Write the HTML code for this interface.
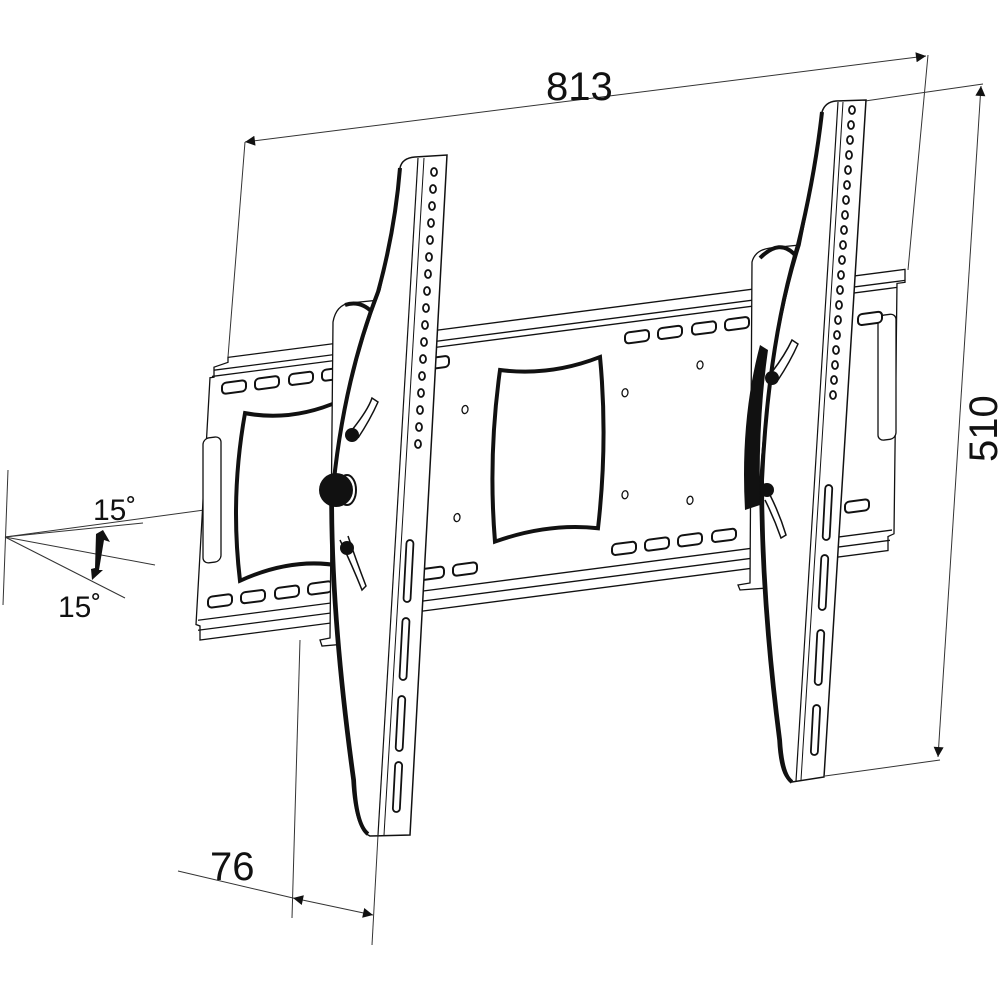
<!DOCTYPE html>
<html><head><meta charset="utf-8"><style>
html,body{margin:0;padding:0;background:#fff;}
svg{display:block;}
text{font-family:"Liberation Sans",sans-serif;fill:#111;}
</style></head><body>
<svg width="1000" height="1000" viewBox="0 0 1000 1000" xmlns="http://www.w3.org/2000/svg">
<defs>
<marker id="ah" viewBox="0 0 10 10" refX="10" refY="5" markerWidth="24" markerHeight="10" orient="auto-start-reverse" markerUnits="userSpaceOnUse"><path d="M0,0 L10,5 L0,10 Z" fill="#111"/></marker>
</defs>
<g stroke="#333" stroke-width="1" fill="none">
<line x1="245" y1="142" x2="926" y2="56" marker-start="url(#ah)" marker-end="url(#ah)"/>
<line x1="245" y1="142" x2="228" y2="357"/>
<line x1="928" y1="55" x2="908" y2="270"/>
<line x1="865" y1="101" x2="983" y2="84"/>
<line x1="981" y1="86" x2="938" y2="757" marker-start="url(#ah)" marker-end="url(#ah)"/>
<line x1="825" y1="776" x2="940" y2="760"/>
<line x1="178" y1="871" x2="293" y2="898"/>
<line x1="293" y1="898" x2="373" y2="915" marker-start="url(#ah)" marker-end="url(#ah)"/>
<line x1="300" y1="640" x2="292" y2="918"/>
<line x1="378" y1="835" x2="372" y2="945"/>
<line x1="8" y1="470" x2="3" y2="605"/>
<line x1="5" y1="537" x2="315" y2="495"/>
<line x1="5" y1="537" x2="143" y2="523"/>
<line x1="5" y1="537" x2="155" y2="565"/>
<line x1="5" y1="537" x2="125" y2="598"/>
</g>
<path d="M96,534 L103,530 L110,542 L104,540 L99,570 L103,570 L92,580 L91,569 L95,568 Z" fill="#111"/>
<text x="546" y="100" font-size="40">813</text>
<text x="210" y="880" font-size="40">76</text>
<text x="93" y="520" font-size="30">15˚</text>
<text x="58" y="617" font-size="30">15˚</text>
<text transform="translate(997,462) rotate(-90)" font-size="40">510</text>

<g transform="matrix(1,-0.13,0,1,0,0)" stroke="#111" stroke-width="1.3" fill="#fff">
<path d="M228,387 L905,387 L905,400 L897,400 L894,650 L888,652 L888,666 L200,666 L200,652 L196,650 L210,405 L214,405 L214,395 L228,392 Z"/>
<line x1="214" y1="398" x2="905" y2="398"/>
<line x1="212" y1="404" x2="897" y2="404"/>
<line x1="198" y1="646" x2="892" y2="646"/>
<line x1="198" y1="656" x2="890" y2="656"/>
<rect x="203" y="465" width="18" height="125" rx="6"/>
<rect x="878" y="430" width="18" height="125" rx="6"/>
<g stroke-width="2">
<rect x="222" y="412" width="24" height="11" rx="4"/><rect x="255" y="412" width="24" height="11" rx="4"/><rect x="289" y="412" width="24" height="11" rx="4"/><rect x="322" y="412" width="24" height="11" rx="4"/>
<rect x="425" y="414" width="24" height="11" rx="4"/><rect x="625" y="414" width="24" height="11" rx="4"/><rect x="658" y="414" width="24" height="11" rx="4"/><rect x="692" y="414" width="24" height="11" rx="4"/><rect x="725" y="414" width="24" height="11" rx="4"/><rect x="858" y="426" width="24" height="11" rx="4"/>
<rect x="208" y="624" width="24" height="11" rx="4"/><rect x="241" y="624" width="24" height="11" rx="4"/><rect x="275" y="624" width="24" height="11" rx="4"/><rect x="308" y="624" width="24" height="11" rx="4"/>
<rect x="420" y="624" width="24" height="11" rx="4"/><rect x="453" y="624" width="24" height="11" rx="4"/><rect x="612" y="624" width="24" height="11" rx="4"/><rect x="645" y="624" width="24" height="11" rx="4"/><rect x="678" y="624" width="24" height="11" rx="4"/><rect x="712" y="624" width="24" height="11" rx="4"/><rect x="845" y="612" width="24" height="11" rx="4"/>
</g>
<path d="M245,445 Q292,460 340,445 Q352,527 340,610 Q292,595 240,612 Q230,527 245,445 Z" stroke-width="4"/>
<path d="M500,435 Q550,448 600,435 Q608,520 598,606 Q548,594 495,606 Q488,520 500,435 Z" stroke-width="4"/>
<g stroke-width="1.3"><ellipse cx="465" cy="470" rx="3" ry="4"/><ellipse cx="625" cy="474" rx="3" ry="4"/><ellipse cx="457" cy="577" rx="3" ry="4"/><ellipse cx="625" cy="576" rx="3" ry="4"/><ellipse cx="700" cy="456" rx="3" ry="4"/><ellipse cx="690" cy="590" rx="3" ry="4"/></g>
</g>

<path d="M333,322 Q336,305 350,303 L380,300 L392,640 L322,646 L320,640 L330,638 Z" fill="#fff" stroke="#111" stroke-width="1.3"/>
<path d="M345,305 Q360,300 372,312" fill="none" stroke="#111" stroke-width="4"/>
<path d="M400,168 Q402,158 415,157 L447,155 L410,835 L370,836 Q355,830 352,780 Q330,620 330,500 Q345,380 380,290 Q395,220 400,168 Z" fill="#fff" stroke="#111" stroke-width="1.5"/>
<path d="M400,168 Q395,230 378,292 Q342,385 332,500 Q332,620 354,780 Q356,825 368,834" fill="none" stroke="#111" stroke-width="4"/>
<line x1="418" y1="158" x2="378" y2="835" stroke="#111" stroke-width="1.2"/>
<line x1="424" y1="158" x2="384" y2="835" stroke="#111" stroke-width="1"/>
<g fill="#fff" stroke="#111" stroke-width="1.8">
<ellipse cx="434" cy="172" rx="3" ry="4"/><ellipse cx="433" cy="189" rx="3" ry="4"/><ellipse cx="432" cy="206" rx="3" ry="4"/><ellipse cx="431" cy="223" rx="3" ry="4"/><ellipse cx="430" cy="240" rx="3" ry="4"/><ellipse cx="429" cy="257" rx="3" ry="4"/><ellipse cx="428" cy="274" rx="3" ry="4"/><ellipse cx="427" cy="291" rx="3" ry="4"/><ellipse cx="426" cy="308" rx="3" ry="4"/><ellipse cx="425" cy="325" rx="3" ry="4"/><ellipse cx="424" cy="342" rx="3" ry="4"/><ellipse cx="423" cy="359" rx="3" ry="4"/><ellipse cx="422" cy="376" rx="3" ry="4"/><ellipse cx="421" cy="393" rx="3" ry="4"/><ellipse cx="420" cy="410" rx="3" ry="4"/><ellipse cx="419" cy="427" rx="3" ry="4"/><ellipse cx="418" cy="444" rx="3" ry="4"/>
<rect x="405" y="540" width="7" height="62" rx="3.5" transform="rotate(3 408 571)"/>
<rect x="401" y="618" width="7" height="62" rx="3.5" transform="rotate(3 404 649)"/>
<rect x="397" y="696" width="7" height="55" rx="3.5" transform="rotate(3 400 723)"/>
<rect x="394" y="762" width="7" height="50" rx="3.5" transform="rotate(3 397 787)"/>
</g>
<path d="M352,430 Q368,410 372,398 L378,402 Q370,420 358,438 M340,540 Q352,565 362,590 L366,586 Q356,560 348,536" fill="#fff" stroke="#111" stroke-width="1.5"/>
<circle cx="352" cy="435" r="7" fill="#111"/>
<circle cx="347" cy="548" r="7" fill="#111"/>
<ellipse cx="347" cy="490" rx="9" ry="15" fill="#fff" stroke="#111" stroke-width="2"/>
<circle cx="336" cy="490" r="17" fill="#111"/>

<path d="M752,262 Q755,250 770,248 L800,245 L808,585 L740,590 L738,585 L750,583 Z" fill="#fff" stroke="#111" stroke-width="1.3"/>
<path d="M760,258 Q780,238 795,255" fill="none" stroke="#111" stroke-width="4"/>
<path d="M760,345 Q740,420 745,510 L760,505 Q758,420 768,350 Z" fill="#111"/>
<path d="M822,112 Q825,102 836,101 L866,100 L824,777 L792,782 Q780,778 778,740 Q760,600 760,480 Q770,340 800,245 Q815,170 822,112 Z" fill="#fff" stroke="#111" stroke-width="1.5"/>
<path d="M822,112 Q815,175 798,245 Q768,345 762,480 Q762,600 780,740 Q782,775 792,782" fill="none" stroke="#111" stroke-width="4"/>
<line x1="838" y1="102" x2="796" y2="781" stroke="#111" stroke-width="1.2"/>
<line x1="843" y1="102" x2="801" y2="780" stroke="#111" stroke-width="1"/>
<g fill="#fff" stroke="#111" stroke-width="1.8">
<ellipse cx="852" cy="110" rx="3" ry="4"/><ellipse cx="851" cy="125" rx="3" ry="4"/><ellipse cx="850" cy="140" rx="3" ry="4"/><ellipse cx="849" cy="155" rx="3" ry="4"/><ellipse cx="848" cy="170" rx="3" ry="4"/><ellipse cx="847" cy="185" rx="3" ry="4"/><ellipse cx="846" cy="200" rx="3" ry="4"/><ellipse cx="845" cy="215" rx="3" ry="4"/><ellipse cx="844" cy="230" rx="3" ry="4"/><ellipse cx="843" cy="245" rx="3" ry="4"/><ellipse cx="842" cy="260" rx="3" ry="4"/><ellipse cx="841" cy="275" rx="3" ry="4"/><ellipse cx="840" cy="290" rx="3" ry="4"/><ellipse cx="839" cy="305" rx="3" ry="4"/><ellipse cx="838" cy="320" rx="3" ry="4"/><ellipse cx="837" cy="335" rx="3" ry="4"/><ellipse cx="836" cy="350" rx="3" ry="4"/><ellipse cx="835" cy="365" rx="3" ry="4"/><ellipse cx="834" cy="380" rx="3" ry="4"/><ellipse cx="833" cy="395" rx="3" ry="4"/>
<rect x="824" y="485" width="7" height="55" rx="3.5" transform="rotate(3 827 512)"/>
<rect x="820" y="555" width="7" height="55" rx="3.5" transform="rotate(3 823 582)"/>
<rect x="816" y="630" width="7" height="55" rx="3.5" transform="rotate(3 819 657)"/>
<rect x="812" y="705" width="7" height="50" rx="3.5" transform="rotate(3 815 730)"/>
</g>
<path d="M772,372 Q785,355 792,340 L798,344 Q790,362 778,380 M770,495 Q780,515 786,535 L781,538 Q774,518 765,500" fill="#fff" stroke="#111" stroke-width="1.5"/>
<circle cx="772" cy="378" r="7" fill="#111"/>
<circle cx="767" cy="490" r="7" fill="#111"/>
</svg>
</body></html>
